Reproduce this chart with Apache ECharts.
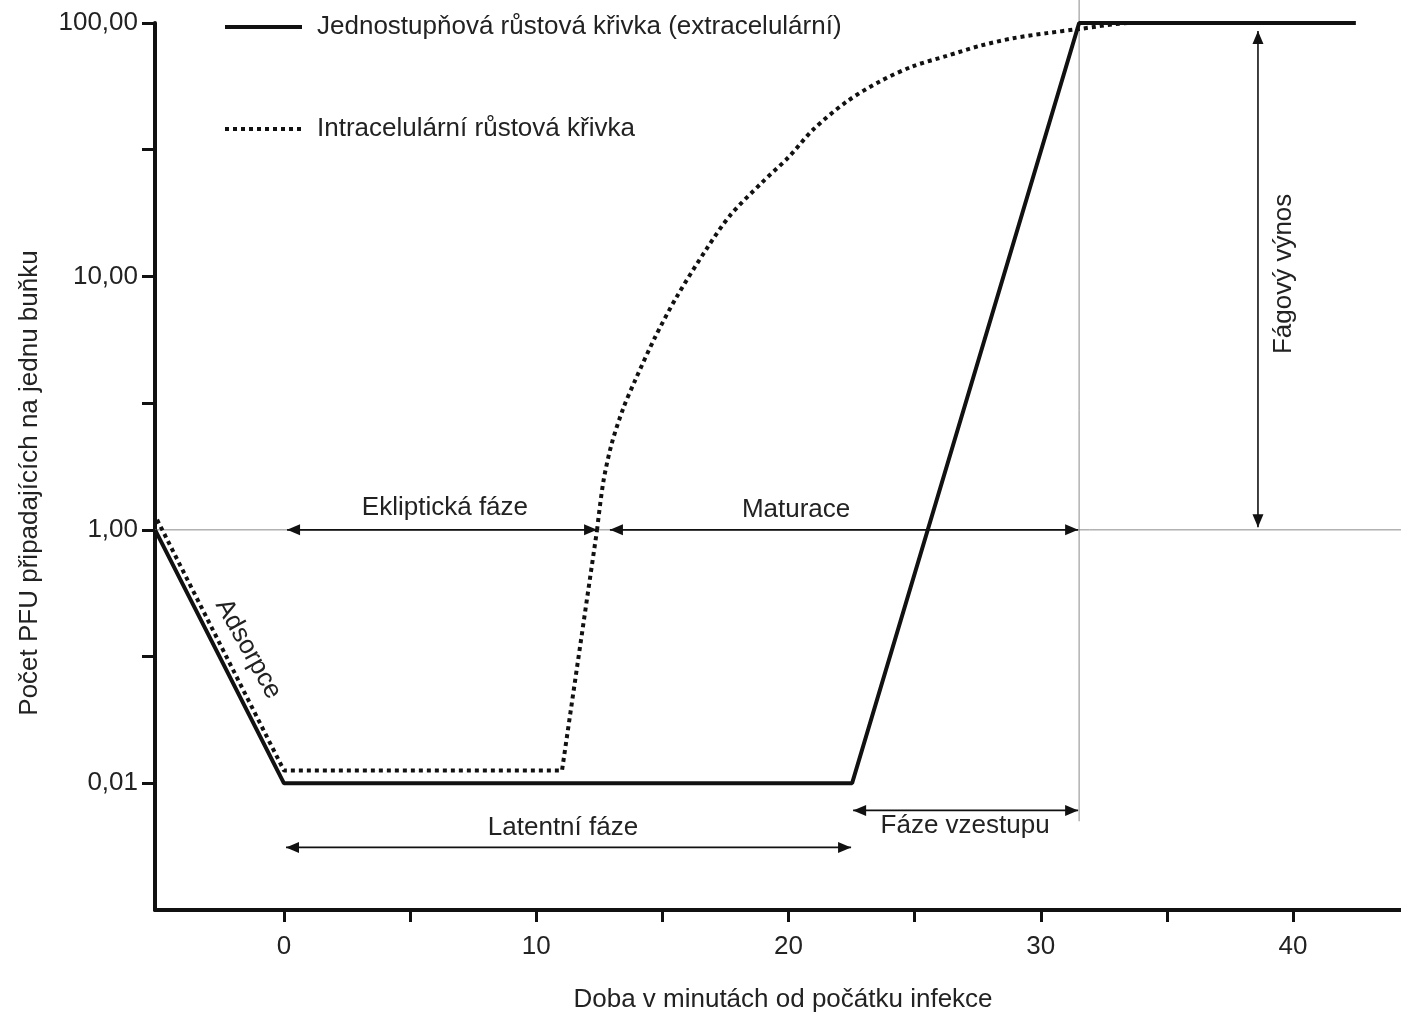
<!DOCTYPE html>
<html>
<head>
<meta charset="utf-8">
<script src="https://cdn.jsdelivr.net/npm/echarts@6/dist/echarts.min.js"></script>
<style>
  html, body { margin: 0; padding: 0; background: #fff; }
  #chart { width: 1401px; height: 1016px; }
</style>
</head>
<body>
<div id="chart"></div>
<script>
// time axis (minutes), value axis = decade level (0 -> 0,01 ; 1 -> 1,00 ; 2 -> 10,00 ; 3 -> 100,00)
const timeTicks = [0, 5, 10, 15, 20, 25, 30, 35, 40];
const timeLabels = [0, 10, 20, 30, 40];
const levelTicks = [0, 0.5, 1, 1.5, 2, 2.5, 3];
const levelLabels = [0, 1, 2, 3];
const levelLabelText = ['0,01', '1,00', '10,00', '100,00'];

const seriesNames = ['Jednostupňová růstová křivka (extracelulární)', 'Intracelulární růstová křivka'];

// [minuty, úroveň]
const extracelularni = [[-5.11, 1], [0, 0], [22.52, 0], [31.52, 3], [42.49, 3]];
// intracelulární: přímý úsek (adsorpce, eklipsa, strmý vzestup)
const intraStart = [[-5.03, 1.04], [0, 0.05], [11.02, 0.05], [12.41, 1.0]];
// intracelulární: zakřivený úsek (maturace)
const intraCurve = [
  [12.41, 1.0], [12.66, 1.19], [12.99, 1.34], [13.45, 1.48], [13.92, 1.59],
  [14.71, 1.76], [15.57, 1.92], [16.76, 2.11], [17.68, 2.24], [18.94, 2.37],
  [20.0, 2.47], [20.98, 2.58], [22.31, 2.69], [23.63, 2.77], [24.95, 2.83],
  [26.27, 2.87], [27.59, 2.91], [28.91, 2.94], [30.24, 2.96], [31.42, 2.975],
  [33.66, 3.0], [42.49, 3.0]
];

// guide lines
const horizGuide = [[-5.114, 1], [44.28, 1]];
const vertGuide = [[31.52, -0.15], [31.52, 3.094]];

// double arrows [x1, y1, x2, y2] (tips)
const arrows = [
  [0.12, 1, 12.41, 1],           // Ekliptická fáze
  [12.92, 1, 31.48, 1],          // Maturace
  [0.08, -0.253, 22.48, -0.253], // Latentní fáze
  [22.56, -0.107, 31.48, -0.107],// Fáze vzestupu
  [38.61, 2.968, 38.61, 1.01]    // Fágový výnos
];

// annotation texts [x, y, rotation deg]
const noteText = ['Ekliptická fáze', 'Maturace', 'Latentní fáze', 'Fáze vzestupu', 'Fágový výnos', 'Adsorpce'];
const notePos = [[6.38, 1.085, 0], [20.3, 1.08, 0], [11.06, -0.174, 0], [27.0, -0.166, 0], [39.65, 2.01, 90], [-1.42, 0.53, -61]];

const FONT = '"Liberation Sans", Arial, sans-serif';
const FS = 26;
const INK = '#111';
const TXT = '#222';

let chart = echarts.init(document.getElementById('chart'));

function renderArrow(params, api) {
  let p1 = api.coord([api.value(0), api.value(1)]);
  let p2 = api.coord([api.value(2), api.value(3)]);
  let dx = p2[0] - p1[0], dy = p2[1] - p1[1];
  let len = Math.sqrt(dx * dx + dy * dy);
  let ux = dx / len, uy = dy / len;
  let nx = -uy, ny = ux;
  let hl = 13, hw = 5.5;
  let head = (tip, dir) => [
    tip,
    [tip[0] - dir * ux * hl + nx * hw, tip[1] - dir * uy * hl + ny * hw],
    [tip[0] - dir * ux * hl - nx * hw, tip[1] - dir * uy * hl - ny * hw]
  ];
  return {
    type: 'group',
    children: [
      { type: 'line', shape: { x1: p1[0], y1: p1[1], x2: p2[0], y2: p2[1] }, style: { stroke: INK, lineWidth: 1.6 } },
      { type: 'polygon', shape: { points: head(p1, -1) }, style: { fill: INK } },
      { type: 'polygon', shape: { points: head(p2, 1) }, style: { fill: INK } }
    ]
  };
}

function renderNote(params, api) {
  let p = api.coord([api.value(0), api.value(1)]);
  return {
    type: 'text',
    x: p[0],
    y: p[1],
    rotation: api.value(2) * Math.PI / 180,
    style: {
      text: noteText[params.dataIndex],
      font: FS + 'px ' + FONT,
      fill: TXT,
      align: 'center',
      verticalAlign: 'middle'
    }
  };
}

let dottedStyle = { color: INK, width: 4, type: [4, 4], cap: 'butt' };

let option = {
  animation: false,
  backgroundColor: '#fff',
  grid: { left: 155, right: 0, top: 23, bottom: 106, outerBoundsMode: 'none' },
  legend: {
    data: seriesNames,
    orient: 'vertical',
    left: 218,
    top: 9,
    itemWidth: 77,
    itemHeight: 20,
    itemGap: 76,
    itemStyle: { opacity: 0 },
    lineStyle: { width: 4 },
    textStyle: { fontFamily: FONT, fontSize: FS, color: TXT, padding: [0, 0, 0, 10] }
  },
  xAxis: {
    type: 'value',
    min: -5.114,
    max: 44.28,
    axisLine: { onZero: false, lineStyle: { color: INK, width: 4 } },
    axisTick: { customValues: timeTicks, length: 12, lineStyle: { color: INK, width: 3 } },
    axisLabel: { customValues: timeLabels, margin: 24, fontFamily: FONT, fontSize: FS, color: TXT },
    splitLine: { show: false }
  },
  yAxis: {
    type: 'value',
    min: -0.5,
    max: 3,
    axisLine: { onZero: false, lineStyle: { color: INK, width: 4 } },
    axisTick: { customValues: levelTicks, length: 13, lineStyle: { color: INK, width: 3 } },
    axisLabel: {
      customValues: levelLabels,
      margin: 17,
      fontFamily: FONT,
      fontSize: FS,
      color: TXT,
      formatter: v => levelLabelText[levelLabels.indexOf(Math.round(v))]
    },
    splitLine: { show: false }
  },
  graphic: [
    {
      type: 'text', x: 783, y: 1000,
      style: { text: 'Doba v minutách od počátku infekce', font: FS + 'px ' + FONT, fill: TXT, align: 'center', verticalAlign: 'middle' }
    },
    {
      type: 'text', x: 30, y: 483, rotation: Math.PI / 2,
      style: { text: 'Počet PFU připadajících na jednu buňku', font: FS + 'px ' + FONT, fill: TXT, align: 'center', verticalAlign: 'middle' }
    }
  ],
  series: [
    {
      name: 'horiz', type: 'line', data: horizGuide, symbol: 'none', clip: false, z: 1,
      lineStyle: { color: '#8a8a8a', width: 1 }, silent: true
    },
    {
      name: 'vert', type: 'line', data: vertGuide, symbol: 'none', clip: false, z: 1,
      lineStyle: { color: '#8a8a8a', width: 1 }, silent: true
    },
    {
      name: seriesNames[1], type: 'line', data: intraStart, symbol: 'none', z: 2,
      lineStyle: dottedStyle, itemStyle: { color: INK }
    },
    {
      name: seriesNames[1], type: 'line', data: intraCurve, symbol: 'none', z: 2,
      smooth: 0.3,
      lineStyle: dottedStyle, itemStyle: { color: INK }
    },
    {
      name: seriesNames[0], type: 'line', data: extracelularni, symbol: 'none', z: 3,
      lineStyle: { color: INK, width: 4 },
      itemStyle: { color: INK }
    },
    {
      name: 'arrows', type: 'custom', data: arrows, renderItem: renderArrow, z: 4, silent: true
    },
    {
      name: 'notes', type: 'custom', data: notePos, renderItem: renderNote, z: 5, silent: true
    }
  ]
};

chart.setOption(option);
</script>
</body>
</html>
